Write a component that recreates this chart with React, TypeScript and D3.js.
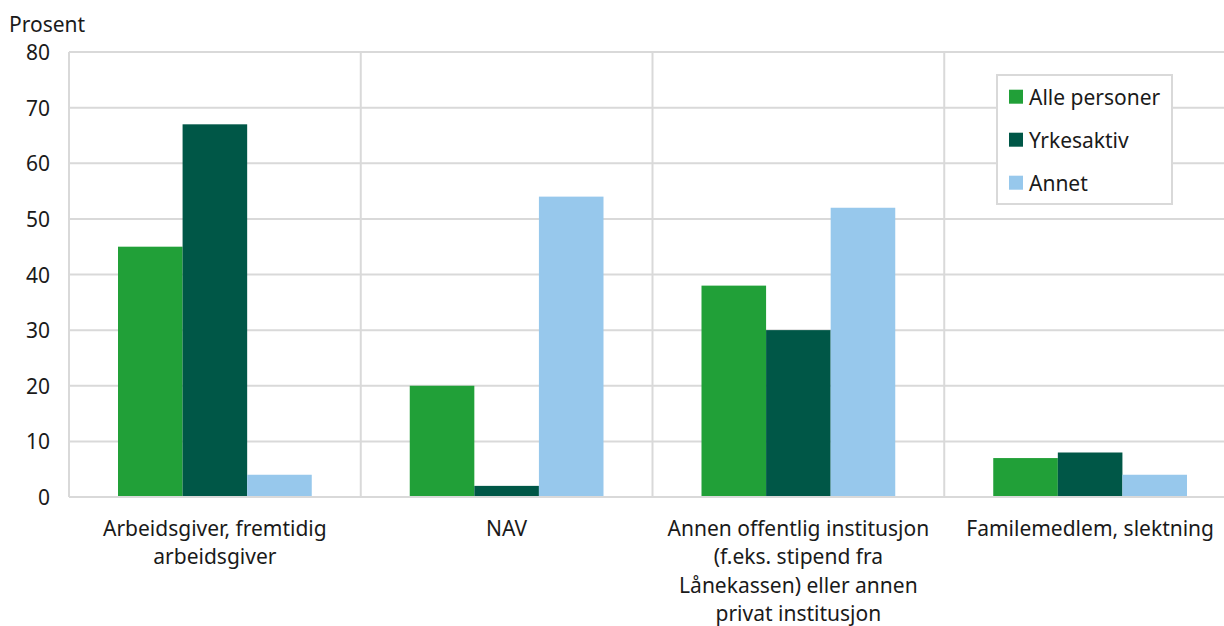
import React from "react";
import * as d3 from "d3";

const categories = [
  "Arbeidsgiver, fremtidig\narbeidsgiver",
  "NAV",
  "Annen offentlig institusjon\n(f.eks. stipend fra\nLånekassen) eller annen\nprivat institusjon",
  "Familemedlem, slektning",
];
const seriesNames = ["Alle personer", "Yrkesaktiv", "Annet"];
const allePersoner = [45, 20, 38, 7];
const yrkesaktiv = [67, 2, 30, 8];
const annet = [4, 54, 52, 4];
const yTicks = [0, 10, 20, 30, 40, 50, 60, 70, 80];
const colors = ["#21a038", "#005747", "#97c8ec"];

const W = 1224;
const H = 626;
const FONT = "'Noto Sans', sans-serif";
const FS = 21;
const TEXT = "#1a1a1a";
const GRID = "#d9d9d9";

export default function App() {
  const series = [allePersoner, yrkesaktiv, annet];
  const x = d3.scaleBand<string>().domain(categories).range([69, 1236]).padding(0);
  const bw = x.bandwidth();
  const xi = d3
    .scaleBand<string>()
    .domain(seriesNames)
    .range([49, bw - 49])
    .padding(0);
  const y = d3.scaleLinear().domain([0, 80]).range([497, 52]);

  return (
    <svg
      width={W}
      height={H}
      style={{ position: "absolute", left: 0, top: 0, display: "block" }}
      fontFamily={FONT}
    >
      <rect width={W} height={H} fill="#fff" />
      {yTicks.map((t) => (
        <line key={"g" + t} x1={69} x2={1236} y1={y(t)} y2={y(t)} stroke={GRID} strokeWidth={2} />
      ))}
      {categories.map((c) => (
        <line key={"v" + c} x1={x(c)!} x2={x(c)!} y1={y(80)} y2={y(0)} stroke={GRID} strokeWidth={2} />
      ))}
      {categories.map((c, ci) =>
        seriesNames.map((s, si) => (
          <rect
            key={c + s}
            x={x(c)! + xi(s)!}
            y={y(series[si][ci])}
            width={xi.bandwidth()}
            height={y(0) - y(series[si][ci])}
            fill={colors[si]}
          />
        ))
      )}
      <line x1={69} x2={1236} y1={y(0)} y2={y(0)} stroke={GRID} strokeWidth={2} />
      {yTicks.map((t) => (
        <text
          key={"t" + t}
          x={50}
          y={y(t)}
          textAnchor="end"
          dominantBaseline="central"
          fontSize={FS}
          fill={TEXT}
        >
          {t}
        </text>
      ))}
      <text x={9} y={32} fontSize={FS} fill={TEXT}>
        Prosent
      </text>
      {categories.map((c) => (
        <text key={"c" + c} textAnchor="middle" fontSize={FS} fill={TEXT}>
          {c.split("\n").map((line, li) => (
            <tspan key={li} x={x(c)! + bw / 2} y={536 + li * 28.3}>
              {line}
            </tspan>
          ))}
        </text>
      ))}
      <rect x={997} y={75} width={175} height={129} fill="#fff" stroke={GRID} strokeWidth={2} />
      {seriesNames.map((s, si) => (
        <g key={"l" + s} transform={`translate(1009, ${96.7 + si * 43})`}>
          <rect x={0} y={-7} width={14} height={14} fill={colors[si]} />
          <text x={20} y={0} dominantBaseline="central" fontSize={FS} fill={TEXT}>
            {s}
          </text>
        </g>
      ))}
    </svg>
  );
}
